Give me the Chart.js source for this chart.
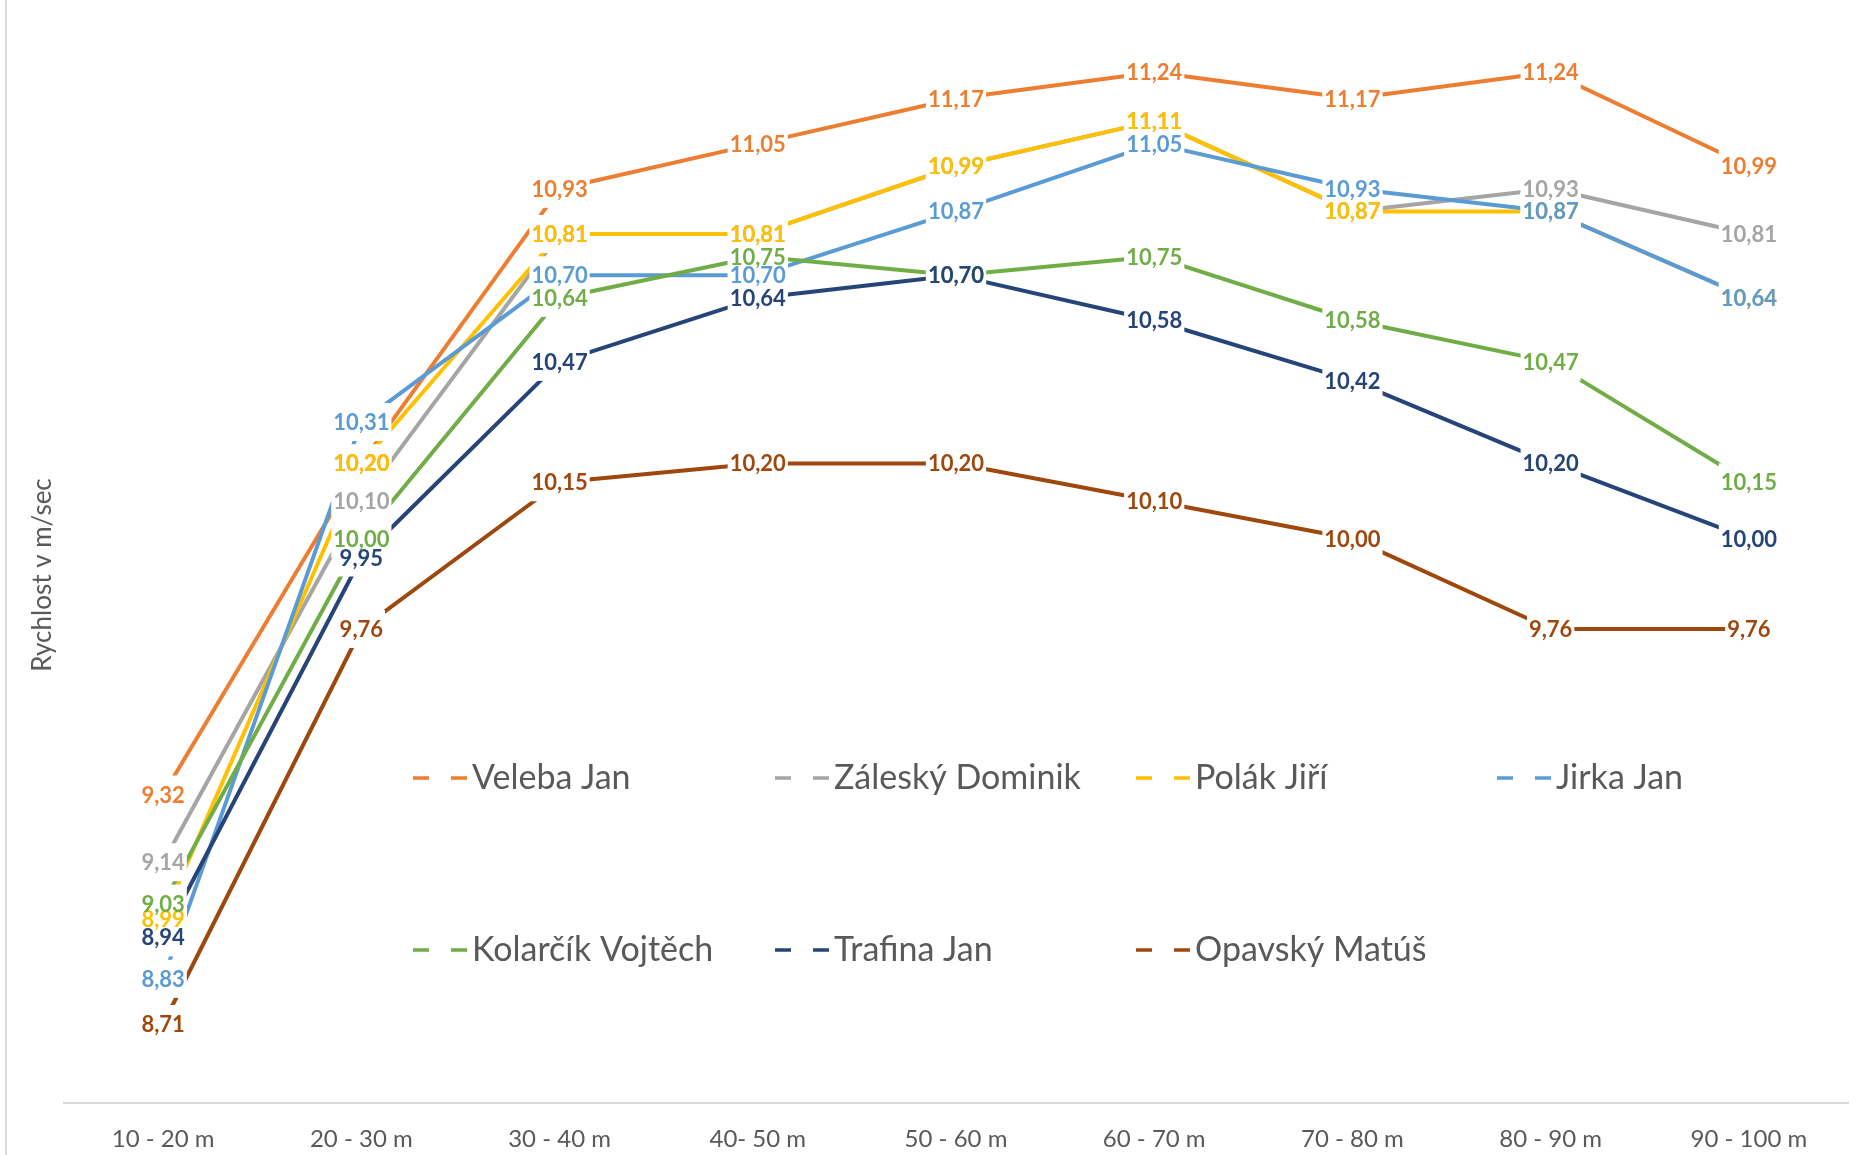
<!DOCTYPE html>
<html>
<head>
<meta charset="utf-8">
<title>Rychlost v úsecích</title>
<script src="https://cdn.jsdelivr.net/npm/chart.js@4.4.1/dist/chart.umd.min.js"></script>
<style>
  html, body { margin: 0; padding: 0; background: #fff; }
  #wrap { position: relative; width: 1861px; height: 1155px; overflow: hidden; }
  #wrap canvas { position: absolute; left: 0; top: 0; }
  #edge { position: absolute; left: 5px; top: 0; width: 2px; height: 100%; background: #d9d9d9; }
</style>
</head>
<body>
<div id="wrap">
  <canvas id="chart" width="1861" height="1155"></canvas>
  <div id="edge"></div>
</div>
<script>
// Úseky (kategorie na ose x)
const segments = ["10 - 20 m", "20 - 30 m", "30 - 40 m", "40- 50 m", "50 - 60 m",
                  "60 - 70 m", "70 - 80 m", "80 - 90 m", "90 - 100 m"];

// Rychlost v m/sec pro každého běžce
const veleba   = [9.32, 10.20, 10.93, 11.05, 11.17, 11.24, 11.17, 11.24, 10.99];
const zalesky  = [9.14, 10.10, 10.81, 10.81, 10.99, 11.11, 10.87, 10.93, 10.81];
const polak    = [8.99, 10.20, 10.81, 10.81, 10.99, 11.11, 10.87, 10.87, 10.64];
const jirka    = [8.83, 10.31, 10.70, 10.70, 10.87, 11.05, 10.93, 10.87, 10.64];
const kolarcik = [9.03, 10.00, 10.64, 10.75, 10.70, 10.75, 10.58, 10.47, 10.15];
const trafina  = [8.94, 9.95, 10.47, 10.64, 10.70, 10.58, 10.42, 10.20, 10.00];
const opavsky  = [8.71, 9.76, 10.15, 10.20, 10.20, 10.10, 10.00, 9.76, 9.76];

const names  = ["Veleba Jan", "Záleský Dominik", "Polák Jiří", "Jirka Jan",
                "Kolarčík Vojtěch", "Trafina Jan", "Opavský Matúš"];
const series = [veleba, zalesky, polak, jirka, kolarcik, trafina, opavsky];
const colors = ["#ED7D31", "#A5A5A5", "#FFC000", "#5B9BD5", "#70AD47", "#264478", "#9E480E"];

const TEXT_GREY = "#595959";
const FONT = "Lato";

// Excel draws later series on top; Chart.js draws lowest `order` last.
const datasets = series.map((data, i) => ({
  label: names[i],
  data,
  borderColor: colors[i],
  backgroundColor: colors[i],
  order: series.length - i,
}));

// Data labels centred on each point, with a white box that hides the lines under it.
const valueLabels = {
  id: "valueLabels",
  afterDatasetsDraw(chart) {
    const ctx = chart.ctx;
    ctx.save();
    ctx.font = `bold 22px ${FONT}`;
    const items = [];
    chart.data.datasets.forEach((ds, i) => {
      chart.getDatasetMeta(i).data.forEach((pt, j) => {
        const v = ds.data[j];
        if (v == null) return;
        items.push({ x: pt.x, y: pt.y, txt: v.toFixed(2).replace(".", ","), color: ds.borderColor });
      });
    });
    ctx.fillStyle = "#fff";
    items.forEach(it => {
      const w = ctx.measureText(it.txt).width + 4;
      ctx.fillRect(it.x - w / 2, it.y - 19, w, 38);
    });
    ctx.textAlign = "center";
    ctx.textBaseline = "alphabetic";
    items.forEach(it => {
      ctx.fillStyle = it.color;
      ctx.fillText(it.txt, it.x, it.y + 8);
    });
    ctx.restore();
  }
};

// Legend inside the plot: 4 columns, 2 rows, dashed key like Excel's.
const gridLegend = {
  id: "gridLegend",
  afterDraw(chart) {
    const ctx = chart.ctx;
    const colX = [413, 775, 1136, 1497];
    const rowY = [778, 950];
    ctx.save();
    ctx.font = `34px ${FONT}`;
    ctx.textBaseline = "alphabetic";
    ctx.textAlign = "left";
    chart.data.datasets.forEach((ds, i) => {
      const x = colX[i % 4];
      const y = rowY[Math.floor(i / 4)];
      ctx.strokeStyle = ds.borderColor;
      ctx.lineWidth = 3.5;
      ctx.beginPath();
      ctx.moveTo(x, y); ctx.lineTo(x + 16, y);
      ctx.moveTo(x + 38, y); ctx.lineTo(x + 54, y);
      ctx.stroke();
      ctx.fillStyle = TEXT_GREY;
      ctx.fillText(ds.label, x + 59, y + 11);
    });
    ctx.restore();
  }
};

// Vertical axis title
const yTitle = {
  id: "yTitle",
  afterDraw(chart) {
    const ctx = chart.ctx;
    ctx.save();
    ctx.translate(43, 575);
    ctx.rotate(-Math.PI / 2);
    ctx.font = `26px ${FONT}`;
    ctx.fillStyle = TEXT_GREY;
    ctx.textAlign = "center";
    ctx.textBaseline = "middle";
    ctx.fillText("Rychlost v m/sec", 0, 0);
    ctx.restore();
  }
};

new Chart(document.getElementById("chart"), {
  type: "line",
  data: { labels: segments, datasets },
  options: {
    responsive: false,
    animation: false,
    devicePixelRatio: 1,
    layout: { padding: { top: 12, right: 13, left: 64, bottom: 0 } },
    elements: {
      line: { borderWidth: 4, tension: 0, borderCapStyle: "round", borderJoinStyle: "round" },
      point: { radius: 0, hoverRadius: 0 },
    },
    plugins: { legend: { display: false }, tooltip: { enabled: false } },
    scales: {
      x: {
        offset: true,
        grid: { display: false, drawTicks: false },
        border: { display: true, color: "#d9d9d9", width: 2 },
        ticks: { color: TEXT_GREY, font: { family: FONT, size: 24 }, padding: 22, maxRotation: 0, autoSkip: false },
        afterFit(scale) { scale.height = 52; },
      },
      y: { display: false, min: 8.5, max: 11.4 },
    },
  },
  plugins: [valueLabels, gridLegend, yTitle],
});
</script>
</body>
</html>
